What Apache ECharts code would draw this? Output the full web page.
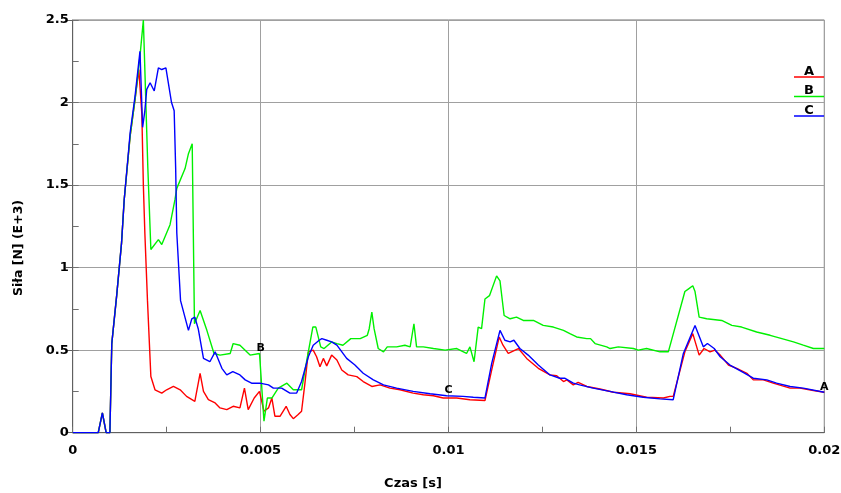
<!DOCTYPE html>
<html>
<head>
<meta charset="utf-8">
<script src="https://cdn.jsdelivr.net/npm/echarts@6/dist/echarts.min.js"></script>
<style>
  html, body { margin: 0; padding: 0; background: #fff; }
  #chart { width: 841px; height: 493px; }
</style>
</head>
<body>
<div id="chart"></div>
<script>
// czas [s], siła [N] (E+3)
const seriesNames = ['A', 'B', 'C'];
const seriesColors = ['#ff0000', '#00f000', '#0000ff'];

const dataA = [
  [0, 0], [0.00068, 0], [0.00079, 0.12], [0.00089, 0], [0.00099, 0], [0.00104, 0.54],
  [0.00117, 0.83], [0.00130, 1.15], [0.00137, 1.41], [0.00153, 1.80], [0.00166, 2.02],
  [0.00176, 2.20], [0.00179, 2.20], [0.00184, 1.93], [0.00188, 1.50], [0.00192, 1.21],
  [0.00199, 0.80], [0.00208, 0.34], [0.00219, 0.26], [0.00237, 0.24], [0.00250, 0.26],
  [0.00268, 0.28], [0.00286, 0.26], [0.00303, 0.22], [0.00325, 0.19], [0.00339, 0.36],
  [0.00348, 0.25], [0.00361, 0.20], [0.00379, 0.18], [0.00392, 0.15], [0.00410, 0.14],
  [0.00427, 0.16], [0.00445, 0.15], [0.00457, 0.27], [0.00467, 0.14], [0.00483, 0.21],
  [0.00497, 0.25], [0.00509, 0.13], [0.00521, 0.15], [0.00530, 0.21], [0.00538, 0.10],
  [0.00552, 0.10], [0.00568, 0.16], [0.00578, 0.11], [0.00587, 0.085], [0.00600, 0.11],
  [0.00609, 0.13], [0.00618, 0.30], [0.00627, 0.49], [0.00640, 0.50], [0.00649, 0.46],
  [0.00658, 0.40], [0.00667, 0.45], [0.00676, 0.405], [0.00689, 0.47], [0.00703, 0.44],
  [0.00716, 0.38], [0.00733, 0.35], [0.00756, 0.34], [0.00773, 0.31], [0.00796, 0.28],
  [0.00818, 0.29], [0.00844, 0.27], [0.00871, 0.26], [0.00906, 0.24], [0.00933, 0.23],
  [0.00960, 0.224], [0.00986, 0.21], [0.01022, 0.21], [0.01057, 0.20], [0.01097, 0.195],
  [0.01115, 0.38], [0.01135, 0.58], [0.01145, 0.53], [0.01159, 0.48], [0.01186, 0.51],
  [0.01208, 0.45], [0.01239, 0.39], [0.01270, 0.35], [0.01288, 0.345], [0.01306, 0.31],
  [0.01315, 0.32], [0.01332, 0.29], [0.01345, 0.305], [0.01368, 0.28], [0.01403, 0.265],
  [0.01439, 0.245], [0.01483, 0.236], [0.01527, 0.215], [0.01572, 0.21], [0.01589, 0.22],
  [0.01598, 0.22], [0.01629, 0.49], [0.01650, 0.60], [0.01667, 0.47], [0.01680, 0.51],
  [0.01696, 0.49], [0.01709, 0.50], [0.01723, 0.47], [0.01745, 0.41], [0.01767, 0.39],
  [0.01794, 0.36], [0.01811, 0.32], [0.01838, 0.32], [0.01864, 0.30], [0.01909, 0.27],
  [0.01935, 0.27], [0.01971, 0.256], [0.02000, 0.245]
];

const dataB = [
  [0, 0], [0.00068, 0], [0.00079, 0.12], [0.00089, 0], [0.00099, 0], [0.00104, 0.54],
  [0.00117, 0.83], [0.00130, 1.15], [0.00137, 1.41], [0.00153, 1.80], [0.00166, 2.02],
  [0.00179, 2.28], [0.00188, 2.50], [0.00200, 1.60], [0.00208, 1.11], [0.00228, 1.17],
  [0.00237, 1.14], [0.00259, 1.26], [0.00272, 1.41], [0.00277, 1.48], [0.00299, 1.60],
  [0.00308, 1.69], [0.00318, 1.75], [0.00324, 0.66], [0.00325, 0.66], [0.00339, 0.74],
  [0.00357, 0.62], [0.00376, 0.48], [0.00392, 0.47], [0.00419, 0.48], [0.00427, 0.54],
  [0.00445, 0.53], [0.00472, 0.47], [0.00497, 0.48], [0.00498, 0.45], [0.00509, 0.07],
  [0.00518, 0.21], [0.00530, 0.21], [0.00547, 0.27], [0.00570, 0.30], [0.00587, 0.26],
  [0.00609, 0.26], [0.00623, 0.44], [0.00639, 0.64], [0.00647, 0.64], [0.00660, 0.52],
  [0.00669, 0.51], [0.00689, 0.55], [0.00703, 0.54], [0.00719, 0.53], [0.00740, 0.57],
  [0.00765, 0.57], [0.00784, 0.59], [0.00789, 0.63], [0.00796, 0.73], [0.00802, 0.63],
  [0.00813, 0.51], [0.00827, 0.49], [0.00837, 0.52], [0.00862, 0.52], [0.00884, 0.53],
  [0.00898, 0.52], [0.00908, 0.66], [0.00915, 0.52], [0.00933, 0.52], [0.00960, 0.51],
  [0.00991, 0.50], [0.01022, 0.51], [0.01048, 0.48], [0.01057, 0.52], [0.01068, 0.43],
  [0.01079, 0.64], [0.01088, 0.63], [0.01097, 0.81], [0.01109, 0.83], [0.01128, 0.95],
  [0.01137, 0.92], [0.01148, 0.71], [0.01164, 0.69], [0.01181, 0.70], [0.01199, 0.68],
  [0.01226, 0.68], [0.01252, 0.65], [0.01279, 0.64], [0.01306, 0.62], [0.01323, 0.60],
  [0.01341, 0.58], [0.01368, 0.57], [0.01378, 0.57], [0.01390, 0.54], [0.01421, 0.52],
  [0.01430, 0.51], [0.01452, 0.52], [0.01492, 0.51], [0.01505, 0.50], [0.01527, 0.51],
  [0.01563, 0.49], [0.01585, 0.49], [0.01629, 0.855], [0.01638, 0.87], [0.01650, 0.89],
  [0.01656, 0.855], [0.01667, 0.70], [0.01687, 0.69], [0.01727, 0.68], [0.01754, 0.65],
  [0.01780, 0.64], [0.01820, 0.61], [0.01856, 0.59], [0.01887, 0.57], [0.01918, 0.55],
  [0.01944, 0.53], [0.01971, 0.51], [0.02000, 0.51]
];

const dataC = [
  [0, 0], [0.00068, 0], [0.00079, 0.12], [0.00089, 0], [0.00099, 0], [0.00104, 0.54],
  [0.00117, 0.83], [0.00130, 1.15], [0.00137, 1.41], [0.00153, 1.82], [0.00166, 2.04],
  [0.00179, 2.31], [0.00186, 1.85], [0.00192, 1.95], [0.00197, 2.08], [0.00206, 2.12],
  [0.00217, 2.07], [0.00228, 2.21], [0.00237, 2.20], [0.00248, 2.21], [0.00263, 2.00],
  [0.00270, 1.95], [0.00274, 1.60], [0.00277, 1.21], [0.00287, 0.80], [0.00308, 0.62],
  [0.00317, 0.69], [0.00325, 0.70], [0.00334, 0.63], [0.00348, 0.45], [0.00365, 0.43],
  [0.00379, 0.49], [0.00397, 0.39], [0.00410, 0.35], [0.00426, 0.37], [0.00445, 0.35],
  [0.00459, 0.32], [0.00476, 0.30], [0.00498, 0.30], [0.00521, 0.29], [0.00534, 0.27],
  [0.00556, 0.27], [0.00578, 0.24], [0.00596, 0.24], [0.00609, 0.31], [0.00627, 0.46],
  [0.00640, 0.53], [0.00656, 0.56], [0.00663, 0.57], [0.00676, 0.56], [0.00689, 0.55],
  [0.00703, 0.53], [0.00729, 0.45], [0.00751, 0.41], [0.00773, 0.36], [0.00800, 0.32],
  [0.00827, 0.29], [0.00862, 0.27], [0.00906, 0.25], [0.00951, 0.236], [0.00995, 0.224],
  [0.01039, 0.22], [0.01066, 0.215], [0.01097, 0.21], [0.01115, 0.42], [0.01137, 0.62],
  [0.01150, 0.56], [0.01164, 0.55], [0.01174, 0.56], [0.01190, 0.51], [0.01212, 0.47],
  [0.01239, 0.41], [0.01270, 0.35], [0.01296, 0.33], [0.01309, 0.33], [0.01332, 0.30],
  [0.01349, 0.29], [0.01385, 0.27], [0.01429, 0.25], [0.01474, 0.23], [0.01518, 0.215],
  [0.01563, 0.205], [0.01598, 0.20], [0.01625, 0.48], [0.01656, 0.65], [0.01678, 0.52],
  [0.01689, 0.54], [0.01707, 0.51], [0.01723, 0.46], [0.01749, 0.41], [0.01784, 0.365],
  [0.01811, 0.33], [0.01847, 0.32], [0.01873, 0.30], [0.01909, 0.28], [0.01944, 0.27],
  [0.02000, 0.245]
];

// etykiety na krzywych: [nazwa, czas, wartość]
const curveTags = [
  ['A', 0.02, 0.245],
  ['B', 0.005, 0.48],
  ['C', 0.01, 0.224]
];

const xTicks = ['0', '0.005', '0.01', '0.015', '0.02'];
const yTicks = ['0', '0.5', '1', '1.5', '2', '2.5'];

const chart = echarts.init(document.getElementById('chart'));
const font = '"DejaVu Sans", sans-serif';
const allData = [dataA, dataB, dataC];

const series = seriesNames.map((name, i) => {
  const tag = curveTags.find((t) => t[0] === name);
  return {
    name: name,
    type: 'line',
    data: allData[i],
    showSymbol: false,
    symbol: 'none',
    animation: false,
    lineStyle: { color: seriesColors[i], width: 1.4 },
    z: 3 + i,
    markPoint: {
      symbol: 'circle',
      symbolSize: 0,
      silent: true,
      data: [{ coord: [tag[1], tag[2]] }],
      label: {
        show: true,
        position: 'top',
        distance: 0,
        formatter: name,
        color: '#000',
        fontFamily: font,
        fontWeight: 'bold',
        fontSize: 11
      }
    }
  };
});

const legendItems = [];
seriesNames.forEach((name, i) => {
  const y = 77 + i * 19.5;
  legendItems.push({
    type: 'line',
    shape: { x1: 794, y1: y, x2: 824, y2: y },
    style: { stroke: seriesColors[i], lineWidth: 1.5 }
  });
  legendItems.push({
    type: 'text',
    x: 809,
    y: y - 5.5,
    style: {
      text: name,
      fill: '#000',
      font: 'bold 13px ' + font,
      textAlign: 'center',
      textVerticalAlign: 'middle'
    }
  });
});

const option = {
  backgroundColor: '#fff',
  animation: false,
  grid: {
    left: 72.7,
    right: 16.7,
    top: 20,
    bottom: 60.3,
    containLabel: false,
    outerBoundsMode: 'none',
    show: true,
    borderColor: '#707070',
    borderWidth: 1
  },
  xAxis: [
    {
      type: 'value',
      min: 0,
      max: 0.02,
      interval: 0.005,
      axisLine: { show: true, lineStyle: { color: '#606060' } },
      axisTick: { show: false },
      axisLabel: {
        color: '#000',
        fontFamily: font,
        fontWeight: 'bold',
        fontSize: 13,
        margin: 11,
        formatter: (v) => xTicks[Math.round(v / 0.005)]
      },
      splitLine: { show: true, lineStyle: { color: '#a0a0a0', width: 1 } }
    },
    {
      type: 'value',
      min: 0,
      max: 0.02,
      interval: 0.0025,
      position: 'bottom',
      axisLine: { show: false },
      axisTick: { show: true, inside: true, length: 6, lineStyle: { color: '#707070' } },
      axisLabel: { show: false },
      splitLine: { show: false }
    }
  ],
  yAxis: [
    {
      type: 'value',
      min: 0,
      max: 2.5,
      interval: 0.5,
      axisLine: { show: true, lineStyle: { color: '#606060' } },
      axisTick: { show: true, inside: false, length: 7, lineStyle: { color: '#606060' } },
      axisLabel: {
        color: '#000',
        fontFamily: font,
        fontWeight: 'bold',
        fontSize: 13,
        margin: 4,
        formatter: (v) => yTicks[Math.round(v / 0.5)]
      },
      splitLine: { show: true, lineStyle: { color: '#a0a0a0', width: 1 } }
    },
    {
      type: 'value',
      min: 0,
      max: 2.5,
      interval: 0.25,
      position: 'left',
      axisLine: { show: false },
      axisTick: { show: true, inside: true, length: 6, lineStyle: { color: '#707070' } },
      axisLabel: { show: false },
      splitLine: { show: false }
    }
  ],
  series: series,
  graphic: [
    {
      type: 'text',
      x: 413,
      y: 484,
      style: {
        text: 'Czas [s]',
        fill: '#000',
        font: 'bold 13px ' + font,
        textAlign: 'center',
        textVerticalAlign: 'middle'
      }
    },
    {
      type: 'text',
      x: 18.5,
      y: 248,
      rotation: Math.PI / 2,
      style: {
        text: 'Siła [N] (E+3)',
        fill: '#000',
        font: 'bold 12.5px ' + font,
        textAlign: 'center',
        textVerticalAlign: 'middle'
      }
    }
  ].concat(legendItems)
};

chart.setOption(option);
</script>
</body>
</html>
